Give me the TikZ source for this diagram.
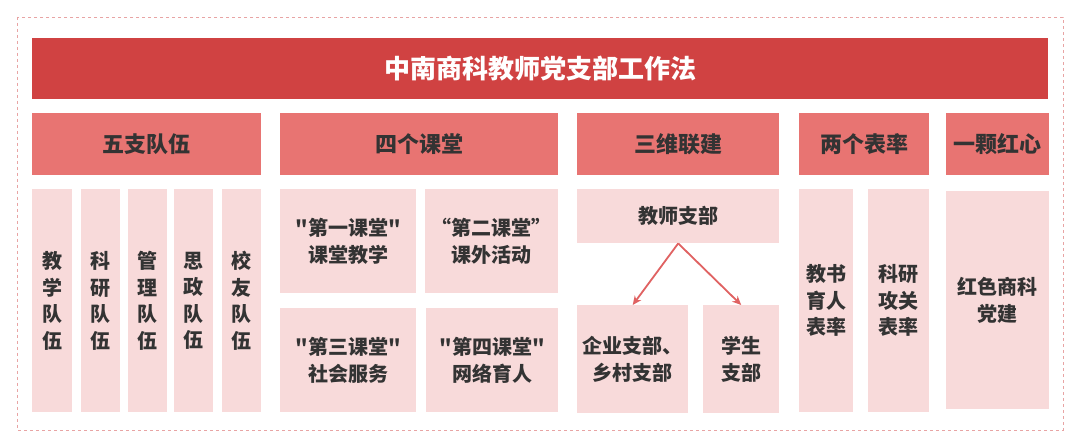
\documentclass[tikz,border=0pt]{standalone}
\usepackage{fontspec}
\setmainfont{Noto Sans CJK SC}[Ligatures=TeXOff, BoldFont={Noto Sans CJK SC Black}]
\usetikzlibrary{arrows.meta}
\definecolor{titlered}{HTML}{D04242}
\definecolor{headred}{HTML}{E87472}
\definecolor{lightpink}{HTML}{F8DADA}
\definecolor{dashpink}{HTML}{E8A4A4}
\definecolor{textgray}{HTML}{333333}
\definecolor{arrowred}{HTML}{E06262}
\tikzset{
  titlebox/.style={fill=titlered, draw=none, anchor=north west, inner sep=0pt,
    text=white, font=\fontsize{26}{30}\selectfont\bfseries},
  headbox/.style={fill=headred, draw=none, anchor=north west, inner sep=0pt,
    text=textgray, font=\fontsize{22}{26}\selectfont\bfseries},
  cellbox/.style={fill=lightpink, draw=none, anchor=north west, inner sep=0pt,
    text=textgray, align=center, font=\fontsize{20}{26.5}\selectfont\bfseries},
  linkarrow/.style={draw=arrowred, line width=1.8pt, -{Stealth[length=9pt,width=8pt]}}
}
\begin{document}
\begin{tikzpicture}[x=1pt,y=-1pt]
\path[use as bounding box, fill=white] (0,0) rectangle (1080,446);
\draw[dashpink, dashed, line width=0.8pt] (17,17) rectangle (1063,430);
% title
\node[titlebox, minimum width=1016pt, minimum height=61pt] (title) at (32,38) {中南商科教师党支部工作法};
% headers
\node[headbox, minimum width=229pt, minimum height=62pt] (h1) at (32,113) {五支队伍};
\node[headbox, minimum width=278pt, minimum height=62pt] (h2) at (280,113) {四个课堂};
\node[headbox, minimum width=202pt, minimum height=62pt] (h3) at (577,113) {三维联建};
\node[headbox, minimum width=130pt, minimum height=62pt] (h4) at (799,113) {两个表率};
\node[headbox, minimum width=103pt, minimum height=62pt] (h5) at (946,113) {一颗红心};
% five teams
\node[cellbox, minimum width=40pt, minimum height=223pt] (c1) at (32,189) {教\\学\\队\\伍};
\node[cellbox, minimum width=39pt, minimum height=223pt] (c2) at (81,189) {科\\研\\队\\伍};
\node[cellbox, minimum width=39pt, minimum height=223pt] (c3) at (128,189) {管\\理\\队\\伍};
\node[cellbox, minimum width=39pt, minimum height=223pt] (c4) at (174,189) {思\\政\\队\\伍};
\node[cellbox, minimum width=39pt, minimum height=223pt] (c5) at (222,189) {校\\友\\队\\伍};
% four classrooms
\node[cellbox, minimum width=136pt, minimum height=104pt] (k1) at (280,189) {"第一课堂"\\课堂教学};
\node[cellbox, minimum width=133pt, minimum height=104pt] (k2) at (425,189) {“第二课堂”\\课外活动};
\node[cellbox, minimum width=136pt, minimum height=104pt] (k3) at (280,308) {"第三课堂"\\社会服务};
\node[cellbox, minimum width=132pt, minimum height=104pt] (k4) at (426,308) {"第四课堂"\\网络育人};
% three-dimensional
\node[cellbox, minimum width=202pt, minimum height=54pt] (js) at (577,189) {教师支部};
\node[cellbox, minimum width=111pt, minimum height=108pt] (qy) at (577,305) {企业支部、\\乡村支部};
\node[cellbox, minimum width=76pt, minimum height=108pt] (xs) at (703,305) {学生\\支部};
\draw[linkarrow] (js.south) -- (qy.north);
\draw[linkarrow] (js.south) -- (xs.north);
% two models
\node[cellbox, minimum width=54pt, minimum height=223pt] (b1) at (799,189) {教书\\育人\\表率};
\node[cellbox, minimum width=61pt, minimum height=223pt] (b2) at (868,189) {科研\\攻关\\表率};
% red heart
\node[cellbox, minimum width=103pt, minimum height=218pt] (hx) at (946,191) {红色商科\\党建};
\end{tikzpicture}
\end{document}
